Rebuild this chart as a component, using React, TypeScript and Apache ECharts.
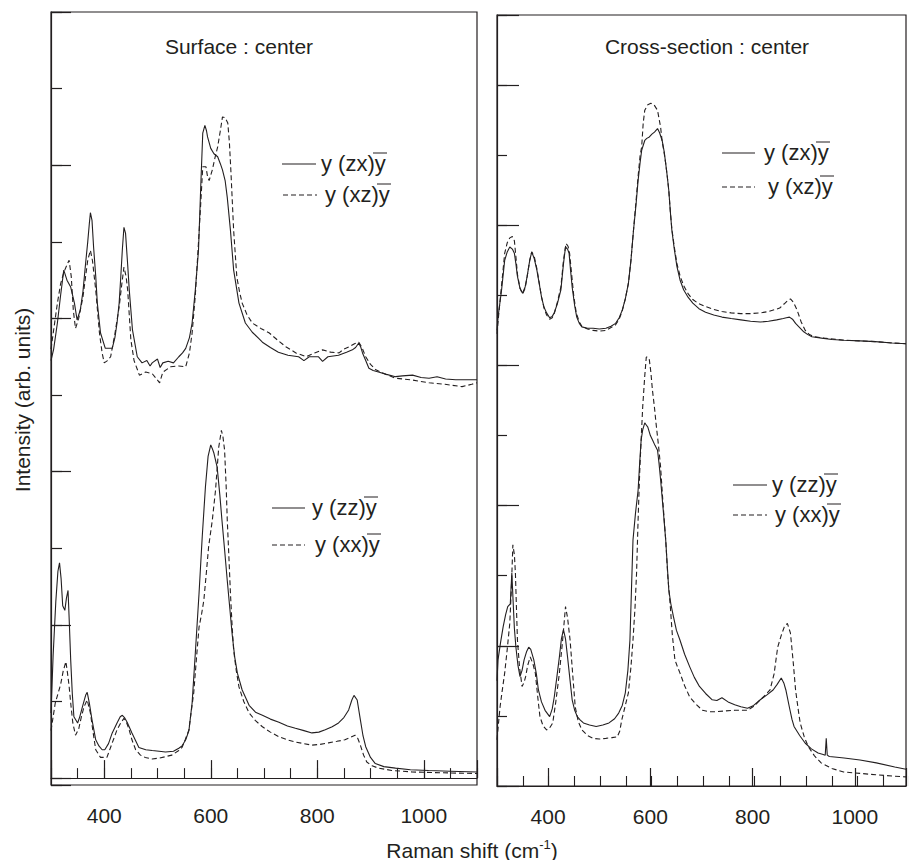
import React, { useEffect, useRef } from 'react';
import * as echarts from 'echarts';

// ---------------- data ----------------
const panelTitles = ['Surface : center', 'Cross-section : center'];
const xAxisTitle = 'Raman shift (cm';
const xAxisTitleSup = '-1';
const yAxisTitle = 'Intensity (arb. units)';
const legendLabels = ['y (zx)y', 'y (xz)y', 'y (zz)y', 'y (xx)y'];
const xTickLabels = [400, 600, 800, 1000];

// Surface : center, y(zx)y (solid, upper)
const surfZX: [number, number][] = [
  [300, 5.45], [305, 5.6], [312, 5.94], [318, 6.3], [324, 6.63], [330, 6.5], [337, 6.41], [344, 6.2], [349, 5.98],
  [355, 6.11], [360, 6.35], [365, 6.72], [369, 7.0], [372, 7.24], [374, 7.38], [377, 7.28], [380, 6.93], [384, 6.55],
  [387, 6.2], [393, 5.81], [402, 5.61], [415, 5.61], [420, 5.75], [424, 5.94], [428, 6.2], [431, 6.54], [434, 6.9],
  [437, 7.19], [440, 7.11], [444, 6.7], [447, 6.37], [453, 5.85], [462, 5.5], [471, 5.42], [480, 5.45], [486, 5.38],
  [490, 5.42], [500, 5.47], [505, 5.36], [510, 5.42], [520, 5.44], [530, 5.42], [540, 5.5], [547, 5.55], [553, 5.61],
  [560, 5.75], [565, 5.94], [571, 6.37], [577, 6.89], [581, 7.68], [585, 8.42], [589, 8.52], [592, 8.45], [594, 8.37],
  [600, 8.22], [606, 8.15], [613, 8.11], [618, 8.02], [622, 7.94], [627, 7.8], [631, 7.58], [637, 7.15], [643, 6.63],
  [653, 6.2], [665, 5.94], [678, 5.82], [690, 5.74], [697, 5.69], [712, 5.62], [727, 5.56], [745, 5.52], [765, 5.5],
  [775, 5.45], [785, 5.5], [802, 5.5], [810, 5.44], [820, 5.5], [840, 5.52], [855, 5.56], [866, 5.59], [872, 5.62],
  [878, 5.68], [882, 5.62], [885, 5.55], [891, 5.45], [897, 5.35], [905, 5.32], [915, 5.3], [930, 5.27], [947, 5.24],
  [960, 5.25], [979, 5.26], [995, 5.23], [1010, 5.22], [1025, 5.24], [1041, 5.21], [1060, 5.2], [1080, 5.2], [1100, 5.2],
];

// Surface : center, y(xz)y (dashed, upper)
const surfXZ: [number, number][] = [
  [300, 5.6], [306, 5.9], [312, 6.2], [318, 6.45], [324, 6.6], [330, 6.7], [334, 6.76], [338, 6.55], [342, 6.1],
  [346, 5.87], [352, 6.0], [360, 6.28], [365, 6.55], [369, 6.76], [374, 6.89], [378, 6.75], [384, 6.37], [391, 5.81],
  [396, 5.55], [400, 5.42], [406, 5.45], [412, 5.5], [420, 5.8], [428, 6.15], [433, 6.45], [437, 6.67], [441, 6.55],
  [444, 6.37], [450, 5.72], [456, 5.45], [466, 5.26], [478, 5.3], [490, 5.28], [497, 5.22], [504, 5.16], [510, 5.3],
  [525, 5.37], [540, 5.38], [553, 5.37], [560, 5.55], [565, 5.81], [571, 6.3], [578, 7.11], [582, 7.6], [585, 7.98],
  [591, 7.98], [594, 7.85], [597, 7.8], [603, 7.94], [608, 8.1], [613, 8.24], [618, 8.45], [622, 8.63], [627, 8.62],
  [632, 8.55], [635, 8.3], [638, 7.9], [643, 7.15], [649, 6.54], [654, 6.35], [659, 6.2], [668, 6.05], [678, 5.94],
  [694, 5.87], [710, 5.81], [725, 5.72], [741, 5.63], [760, 5.55], [779, 5.5], [795, 5.55], [810, 5.59], [825, 5.56],
  [841, 5.55], [850, 5.6], [860, 5.63], [870, 5.67], [878, 5.69], [884, 5.62], [891, 5.5], [900, 5.4], [910, 5.33],
  [925, 5.28], [947, 5.22], [975, 5.2], [1010, 5.16], [1040, 5.14], [1072, 5.11], [1090, 5.14], [1100, 5.16],
];

// Surface : center, y(zz)y (solid, lower)
const surfZZ: [number, number][] = [
  [300, 0.85], [304, 1.6], [309, 2.3], [313, 2.7], [316, 2.81], [319, 2.6], [322, 2.25], [326, 2.19], [329, 2.35],
  [332, 2.45], [334, 2.1], [337, 1.54], [340, 1.1], [343, 0.8], [350, 0.72], [354, 0.8], [359, 0.93], [365, 1.08],
  [368, 1.12], [372, 0.98], [377, 0.76], [384, 0.5], [390, 0.42], [396, 0.37], [401, 0.37], [408, 0.45], [415, 0.59],
  [424, 0.72], [430, 0.8], [434, 0.82], [438, 0.79], [443, 0.73], [452, 0.59], [465, 0.4], [478, 0.37], [490, 0.36],
  [503, 0.35], [515, 0.34], [530, 0.35], [540, 0.39], [546, 0.42], [553, 0.5], [559, 0.62], [565, 0.98], [571, 1.63],
  [578, 2.41], [584, 3.15], [590, 3.8], [595, 4.2], [600, 4.35], [603, 4.3], [606, 4.24], [612, 4.06], [617, 3.7],
  [621, 3.37], [626, 2.98], [631, 2.58], [636, 2.2], [640, 1.89], [645, 1.58], [650, 1.37], [659, 1.15], [672, 0.95],
  [684, 0.86], [697, 0.82], [712, 0.77], [728, 0.73], [744, 0.68], [759, 0.65], [775, 0.62], [790, 0.59], [803, 0.6],
  [815, 0.63], [828, 0.67], [840, 0.72], [850, 0.79], [859, 0.89], [865, 1.02], [869, 1.08], [875, 1.02], [881, 0.76],
  [886, 0.55], [891, 0.41], [900, 0.27], [909, 0.19], [925, 0.15], [947, 0.13], [975, 0.11], [1009, 0.1], [1050, 0.09],
  [1100, 0.08],
];

// Surface : center, y(xx)y (dashed, lower)
const surfXX: [number, number][] = [
  [300, 0.62], [308, 0.98], [313, 1.1], [318, 1.22], [323, 1.4], [328, 1.52], [331, 1.37], [334, 1.2], [337, 0.98],
  [341, 0.72], [346, 0.56], [352, 0.64], [357, 0.8], [362, 0.93], [368, 1.02], [374, 0.85], [379, 0.6], [384, 0.37],
  [393, 0.27], [405, 0.27], [415, 0.46], [424, 0.63], [431, 0.72], [437, 0.78], [441, 0.74], [446, 0.65], [452, 0.5],
  [459, 0.37], [468, 0.3], [477, 0.27], [490, 0.25], [502, 0.26], [515, 0.28], [527, 0.3], [540, 0.36], [546, 0.4],
  [552, 0.5], [559, 0.63], [563, 0.85], [568, 1.11], [573, 1.55], [578, 1.97], [583, 2.15], [587, 2.32], [592, 2.7],
  [596, 3.02], [603, 3.37], [609, 3.76], [615, 4.32], [620, 4.54], [623, 4.45], [626, 4.28], [629, 3.8], [631, 3.37],
  [634, 2.9], [637, 2.41], [640, 2.0], [643, 1.67], [648, 1.4], [653, 1.19], [662, 1.0], [672, 0.85], [684, 0.75],
  [697, 0.67], [712, 0.6], [728, 0.54], [744, 0.5], [759, 0.47], [775, 0.45], [790, 0.43], [805, 0.44], [821, 0.46],
  [837, 0.48], [852, 0.5], [862, 0.53], [871, 0.56], [876, 0.52], [881, 0.43], [887, 0.3], [893, 0.21], [903, 0.16],
  [915, 0.13], [940, 0.1], [978, 0.08], [1030, 0.07], [1100, 0.06],
];

// Cross-section : center, y(zx)y (solid, upper)
const crossZX: [number, number][] = [
  [300, 6.5], [302, 6.69], [309, 7.08], [315, 7.5], [320, 7.62], [325, 7.69], [330, 7.66], [334, 7.6], [337, 7.45],
  [340, 7.27], [345, 7.1], [350, 7.03], [355, 7.12], [359, 7.27], [364, 7.5], [368, 7.62], [373, 7.52], [378, 7.36],
  [383, 7.15], [387, 6.98], [392, 6.83], [397, 6.75], [403, 6.68], [408, 6.7], [412, 6.75], [418, 6.88], [425, 7.08],
  [430, 7.45], [434, 7.69], [438, 7.66], [441, 7.6], [444, 7.35], [447, 7.12], [452, 6.85], [456, 6.69], [461, 6.6],
  [466, 6.55], [477, 6.53], [488, 6.53], [500, 6.52], [513, 6.53], [523, 6.56], [532, 6.6], [539, 6.68], [545, 6.79],
  [551, 6.95], [557, 7.17], [562, 7.5], [567, 7.93], [572, 8.3], [576, 8.64], [580, 8.9], [583, 9.07], [589, 9.21],
  [593, 9.24], [598, 9.26], [603, 9.3], [608, 9.33], [614, 9.38], [618, 9.32], [623, 9.21], [627, 9.05], [630, 8.88],
  [633, 8.7], [636, 8.5], [639, 8.2], [642, 7.93], [647, 7.65], [652, 7.41], [658, 7.22], [665, 7.08], [674, 6.97],
  [683, 6.89], [695, 6.81], [708, 6.76], [724, 6.72], [740, 6.69], [758, 6.67], [777, 6.65], [796, 6.63], [815, 6.62],
  [831, 6.63], [847, 6.65], [860, 6.67], [866, 6.68], [872, 6.69], [878, 6.66], [884, 6.6], [892, 6.54], [900, 6.48],
  [908, 6.44], [916, 6.41], [935, 6.39], [955, 6.37], [979, 6.36], [1010, 6.35], [1040, 6.34], [1073, 6.32], [1100, 6.31],
];

// Cross-section : center, y(xz)y (dashed, upper)
const crossXZ: [number, number][] = [
  [300, 6.45], [303, 6.7], [309, 7.15], [315, 7.6], [320, 7.75], [325, 7.82], [330, 7.84], [334, 7.78], [337, 7.55],
  [340, 7.3], [345, 7.1], [350, 7.02], [355, 7.1], [359, 7.27], [364, 7.5], [368, 7.62], [373, 7.55], [378, 7.38],
  [383, 7.16], [387, 6.98], [392, 6.82], [397, 6.72], [403, 6.66], [408, 6.68], [412, 6.74], [418, 6.9], [425, 7.12],
  [430, 7.5], [435, 7.74], [439, 7.7], [442, 7.6], [446, 7.3], [450, 7.0], [455, 6.75], [461, 6.62], [466, 6.56],
  [477, 6.52], [488, 6.5], [500, 6.49], [513, 6.5], [523, 6.54], [532, 6.58], [539, 6.66], [545, 6.78], [551, 6.95],
  [557, 7.17], [562, 7.5], [567, 7.93], [572, 8.35], [576, 8.7], [580, 9.0], [583, 9.12], [586, 9.46], [589, 9.64],
  [595, 9.72], [601, 9.74], [607, 9.72], [614, 9.64], [617, 9.52], [620, 9.4], [623, 9.2], [627, 9.03], [630, 8.88],
  [633, 8.7], [636, 8.5], [639, 8.2], [642, 7.95], [647, 7.68], [652, 7.45], [658, 7.28], [665, 7.14], [674, 7.02],
  [683, 6.94], [695, 6.88], [708, 6.84], [724, 6.8], [740, 6.77], [758, 6.75], [777, 6.74], [796, 6.74], [815, 6.75],
  [831, 6.77], [845, 6.8], [853, 6.82], [862, 6.88], [869, 6.93], [874, 6.95], [880, 6.9], [887, 6.79], [895, 6.62],
  [903, 6.5], [911, 6.44], [920, 6.41], [940, 6.39], [979, 6.36], [1010, 6.35], [1040, 6.34], [1073, 6.32], [1100, 6.31],
];

// Cross-section : center, y(zz)y (solid, lower)
const crossZZ: [number, number][] = [
  [300, 1.5], [302, 1.8], [307, 2.05], [312, 2.27], [317, 2.45], [321, 2.56], [326, 2.6], [329, 3.04], [332, 2.56],
  [334, 2.25], [337, 1.98], [341, 1.72], [345, 1.56], [349, 1.65], [353, 1.8], [358, 1.92], [362, 1.98], [366, 1.95],
  [372, 1.8], [377, 1.6], [381, 1.37], [387, 1.2], [394, 1.08], [403, 0.99], [408, 1.1], [412, 1.27], [417, 1.55],
  [422, 1.84], [426, 2.1], [430, 2.23], [434, 2.1], [438, 1.84], [443, 1.5], [447, 1.23], [452, 1.08], [457, 0.99],
  [463, 0.94], [469, 0.9], [481, 0.87], [494, 0.85], [507, 0.87], [519, 0.9], [530, 0.96], [538, 1.04], [545, 1.15],
  [551, 1.33], [556, 1.65], [560, 2.08], [563, 2.8], [566, 3.51], [571, 3.9], [576, 4.22], [579, 4.6], [582, 4.94],
  [585, 5.08], [589, 5.18], [592, 5.15], [595, 5.12], [600, 5.0], [604, 4.94], [609, 4.86], [614, 4.79], [617, 4.6],
  [620, 4.37], [625, 3.95], [630, 3.51], [633, 3.15], [636, 2.8], [640, 2.6], [645, 2.42], [651, 2.22], [658, 2.08],
  [667, 1.88], [677, 1.7], [686, 1.55], [696, 1.42], [708, 1.32], [721, 1.23], [730, 1.22], [740, 1.26], [752, 1.2],
  [765, 1.16], [777, 1.13], [790, 1.11], [802, 1.15], [815, 1.23], [828, 1.3], [840, 1.37], [848, 1.45], [856, 1.54],
  [861, 1.47], [865, 1.37], [872, 1.12], [877, 0.95], [881, 0.85], [892, 0.72], [903, 0.61], [915, 0.53], [928, 0.47],
  [938, 0.45], [942, 0.44], [944, 0.68], [946, 0.44], [950, 0.42], [965, 0.41], [979, 0.4], [1010, 0.37], [1042, 0.33],
  [1078, 0.27], [1100, 0.24],
];

// Cross-section : center, y(xx)y (dashed, lower)
const crossXX: [number, number][] = [
  [300, 0.66], [303, 0.9], [306, 1.13], [310, 1.35], [315, 1.61], [320, 1.95], [325, 2.32], [328, 2.8], [331, 3.44],
  [334, 3.3], [336, 3.04], [338, 2.55], [340, 2.08], [344, 1.7], [349, 1.42], [353, 1.48], [356, 1.56], [360, 1.72],
  [365, 1.84], [370, 1.75], [375, 1.61], [380, 1.25], [384, 0.99], [390, 0.86], [397, 0.8], [403, 0.83], [409, 0.9],
  [415, 1.2], [422, 1.61], [428, 2.05], [434, 2.56], [438, 2.4], [443, 2.08], [448, 1.6], [453, 1.13], [459, 0.92],
  [466, 0.8], [477, 0.72], [488, 0.68], [500, 0.67], [513, 0.68], [525, 0.69], [535, 0.7], [540, 0.78], [544, 0.94],
  [550, 1.12], [557, 1.33], [562, 1.7], [566, 2.08], [570, 2.55], [573, 3.04], [576, 3.8], [579, 4.46], [582, 4.95],
  [585, 5.41], [589, 5.85], [592, 6.12], [595, 6.12], [598, 6.08], [601, 5.9], [604, 5.65], [608, 5.4], [611, 5.18],
  [616, 4.85], [620, 4.55], [625, 4.0], [630, 3.51], [634, 3.0], [639, 2.56], [643, 2.15], [648, 1.8], [653, 1.7],
  [658, 1.61], [667, 1.43], [677, 1.27], [690, 1.16], [702, 1.08], [715, 1.06], [728, 1.06], [745, 1.07], [765, 1.08],
  [778, 1.08], [790, 1.08], [803, 1.14], [815, 1.23], [825, 1.3], [834, 1.37], [842, 1.6], [849, 1.98], [856, 2.15],
  [862, 2.27], [868, 2.32], [874, 2.18], [879, 1.8], [884, 1.37], [889, 1.1], [893, 0.9], [901, 0.7], [909, 0.56],
  [921, 0.43], [934, 0.33], [955, 0.25], [978, 0.2], [1010, 0.18], [1041, 0.16], [1078, 0.14], [1100, 0.13],
];

// ---------------- styling ----------------
const INK = '#231f20';
const FONT = '"Liberation Sans", Arial, Helvetica, sans-serif';
const DASH = [5, 3];

const LEFT_GRID = { left: 51, top: 12, width: 426, height: 773 };
const RIGHT_GRID = { left: 497, top: 15, width: 424, height: 771 };

function legendItem(x1: number, x2: number, y: number, tx: number, label: string, dashed: boolean) {
  return [
    {
      type: 'line',
      shape: { x1, y1: y, x2, y2: y },
      style: { stroke: INK, lineWidth: 1.2, lineDash: dashed ? DASH : null },
    },
    {
      type: 'text',
      x: tx,
      y: y - 1,
      style: { text: label, fontSize: 22, fontFamily: FONT, fill: INK, align: 'left', verticalAlign: 'middle' },
    },
    {
      type: 'line',
      shape: { x1: tx + 52, y1: y - 11, x2: tx + 66, y2: y - 11 },
      style: { stroke: INK, lineWidth: 1 },
    },
  ];
}

function xLabelFmt(v: number) {
  return xTickLabels.indexOf(v) >= 0 ? String(v) : '';
}

function majorX(gridIndex: number) {
  return {
    type: 'value', gridIndex, min: 300, max: 1100, minInterval: 200, maxInterval: 200,
    axisLine: { show: true, lineStyle: { color: INK, width: 1.2 } },
    axisTick: { show: true, inside: true, length: 18, lineStyle: { color: INK, width: 1.2 } },
    axisLabel: { show: true, formatter: xLabelFmt, fontSize: 21, fontFamily: FONT, color: INK, margin: 20 },
    splitLine: { show: false },
  };
}
function minorX(gridIndex: number) {
  return {
    type: 'value', gridIndex, min: 300, max: 1100, interval: 50,
    axisLine: { show: false },
    axisTick: { show: true, inside: true, length: 10, lineStyle: { color: INK, width: 1.1 } },
    axisLabel: { show: false },
    splitLine: { show: false },
  };
}
function yAx(gridIndex: number, min: number, max: number, step: number, len: number, line: boolean) {
  return {
    type: 'value', gridIndex, min, max, minInterval: step, maxInterval: step,
    axisLine: { show: line, lineStyle: { color: INK, width: 1.2 } },
    axisTick: { show: true, inside: true, length: len, lineStyle: { color: INK, width: 1.2 } },
    axisLabel: { show: false },
    splitLine: { show: false },
  };
}

function lineSeries(data: [number, number][], axis: number, dashed: boolean, name: string) {
  return {
    type: 'line', name, data, xAxisIndex: axis, yAxisIndex: axis,
    showSymbol: false, symbol: 'none', smooth: false,
    lineStyle: { color: INK, width: 1.1, type: dashed ? DASH : 'solid' },
    z: 3,
  };
}

export default function App() {
  const ref = useRef<HTMLDivElement>(null);
  useEffect(() => {
    if (!ref.current) return;
    const chart = echarts.init(ref.current, undefined, { renderer: 'svg' });
    const option: any = {
      animation: false,
      backgroundColor: '#ffffff',
      grid: [
        { ...LEFT_GRID, show: true, borderColor: INK, borderWidth: 1.2, backgroundColor: 'transparent' },
        { ...LEFT_GRID, show: false },
        { ...RIGHT_GRID, show: true, borderColor: INK, borderWidth: 1.2, backgroundColor: 'transparent' },
        { ...RIGHT_GRID, show: false },
      ],
      xAxis: [majorX(0), minorX(1), majorX(2), minorX(3)],
      yAxis: [
        yAx(0, -0.09, 10, 2, 20, true),
        yAx(1, -0.09, 10, 1, 11, false),
        yAx(2, 0, 11, 2, 22, true),
        yAx(3, 0, 11, 1, 10, false),
      ],
      series: [
        lineSeries(surfZX, 0, false, 'surf ' + legendLabels[0]),
        lineSeries(surfXZ, 0, true, 'surf ' + legendLabels[1]),
        lineSeries(surfZZ, 0, false, 'surf ' + legendLabels[2]),
        lineSeries(surfXX, 0, true, 'surf ' + legendLabels[3]),
        lineSeries(crossZX, 2, false, 'cross ' + legendLabels[0]),
        lineSeries(crossXZ, 2, true, 'cross ' + legendLabels[1]),
        lineSeries(crossZZ, 2, false, 'cross ' + legendLabels[2]),
        lineSeries(crossXX, 2, true, 'cross ' + legendLabels[3]),
      ],
      graphic: [
        {
          type: 'text', x: 239, y: 46,
          style: { text: panelTitles[0], fontSize: 21, fontFamily: FONT, fill: INK, align: 'center', verticalAlign: 'middle' },
        },
        {
          type: 'text', x: 707, y: 46,
          style: { text: panelTitles[1], fontSize: 21, fontFamily: FONT, fill: INK, align: 'center', verticalAlign: 'middle' },
        },
        {
          type: 'text', x: 22, y: 400, rotation: Math.PI / 2,
          style: { text: yAxisTitle, fontSize: 21, fontFamily: FONT, fill: INK, align: 'center', verticalAlign: 'middle' },
        },
        {
          type: 'text', x: 472, y: 850,
          style: {
            text: '{a|' + xAxisTitle + '}{s|' + xAxisTitleSup + '}{a|)}',
            align: 'center', verticalAlign: 'middle', fill: INK,
            rich: {
              a: { fontSize: 21, fontFamily: FONT, fill: INK, lineHeight: 24 },
              s: { fontSize: 13, fontFamily: FONT, fill: INK, verticalAlign: 'top', lineHeight: 14 },
            },
          },
        },
        ...legendItem(282, 316, 164, 321, legendLabels[0], false),
        ...legendItem(283, 317, 195, 325, legendLabels[1], true),
        ...legendItem(272, 305, 508, 312, legendLabels[2], false),
        ...legendItem(272, 305, 545, 315, legendLabels[3], true),
        ...legendItem(722, 755, 153, 764, legendLabels[0], false),
        ...legendItem(722, 755, 187, 768, legendLabels[1], true),
        ...legendItem(733, 767, 485, 772, legendLabels[2], false),
        ...legendItem(733, 767, 515, 775, legendLabels[3], true),
      ],
    };
    chart.setOption(option);
    return () => chart.dispose();
  }, []);
  return (
    <div
      ref={ref}
      style={{ position: 'absolute', left: 0, top: 0, width: 909, height: 860, background: '#fff' }}
    />
  );
}
